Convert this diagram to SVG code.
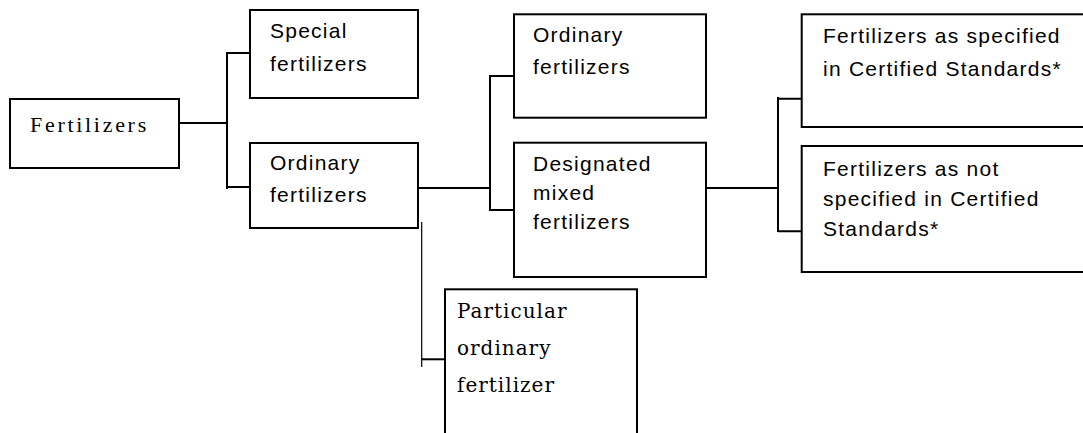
<svg xmlns="http://www.w3.org/2000/svg" width="1083" height="433" viewBox="0 0 1083 433">
  <style>
    .box { fill: #ffffff; stroke: #000000; stroke-width: 2; }
    .link { fill: none; stroke: #000000; stroke-width: 2; }
    .thin { fill: none; stroke: #000000; stroke-width: 1.2; }
    .sans { font-family: "Liberation Sans", Arial, sans-serif; font-size: 21px; letter-spacing: 1.25px; fill: #000000; }
    .title { font-family: "Liberation Serif", "Times New Roman", serif; font-size: 22px; letter-spacing: 2.7px; fill: #000000; }
    .serif { font-family: "DejaVu Serif", "Liberation Serif", serif; font-size: 20px; letter-spacing: 1px; fill: #000000; }
  </style>
  <rect width="1083" height="433" fill="#ffffff"/>

  <!-- connectors -->
  <g id="connectors">
    <path class="link" d="M179 123 H227 M227 52 V189 M227 53 H250 M227 187 H250"/>
    <path class="link" d="M418 188 H490 M490 75 V211 M490 76 H514 M490 210 H514"/>
    <path class="link" d="M706 188 H778 M778 97 V232 M778 98.7 H802 M778 231.3 H802"/>
    <path class="thin" d="M421.7 222 V367"/>
    <path class="link" d="M421.7 359.3 H445"/>
  </g>

  <g id="node-fertilizers">
    <rect class="box" x="10" y="99" width="169" height="69"/>
    <text class="title" x="30" y="132">Fertilizers</text>
  </g>

  <g id="node-special">
    <rect class="box" x="250" y="10" width="168" height="88"/>
    <text class="sans" x="270" y="38">Special</text>
    <text class="sans" x="270" y="71">fertilizers</text>
  </g>

  <g id="node-ordinary">
    <rect class="box" x="250" y="143" width="168" height="85"/>
    <text class="sans" x="270" y="170">Ordinary</text>
    <text class="sans" x="270" y="202">fertilizers</text>
  </g>

  <g id="node-ordinary-sub">
    <rect class="box" x="514" y="14.3" width="192" height="103.4"/>
    <text class="sans" x="533" y="42">Ordinary</text>
    <text class="sans" x="533" y="74">fertilizers</text>
  </g>

  <g id="node-designated">
    <rect class="box" x="514" y="142.7" width="192" height="134.3"/>
    <text class="sans" x="533" y="171">Designated</text>
    <text class="sans" x="533" y="200">mixed</text>
    <text class="sans" x="533" y="229">fertilizers</text>
  </g>

  <g id="node-specified">
    <rect class="box" x="801.7" y="14.3" width="300" height="112.7"/>
    <text class="sans" x="823" y="43">Fertilizers as specified</text>
    <text class="sans" x="823" y="76">in Certified Standards*</text>
  </g>

  <g id="node-not-specified">
    <rect class="box" x="801.7" y="146" width="300" height="126"/>
    <text class="sans" x="823" y="176">Fertilizers as not</text>
    <text class="sans" x="823" y="206">specified in Certified</text>
    <text class="sans" x="823" y="236">Standards*</text>
  </g>

  <g id="node-particular">
    <rect class="box" x="445" y="289.3" width="192" height="200"/>
    <text class="serif" x="457" y="318">Particular</text>
    <text class="serif" x="457" y="355">ordinary</text>
    <text class="serif" x="457" y="392">fertilizer</text>
  </g>
</svg>
